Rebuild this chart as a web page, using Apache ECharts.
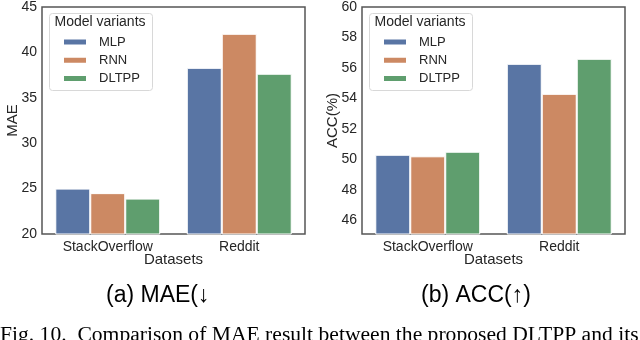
<!DOCTYPE html>
<html>
<head>
<meta charset="utf-8">
<script src="https://cdn.jsdelivr.net/npm/echarts@6/dist/echarts.min.js"></script>
<style>
  html, body { margin: 0; padding: 0; background: #fff; }
  #chart { width: 640px; height: 340px; }
</style>
</head>
<body>
<div id="chart"></div>
<script>
// data
const datasets = ['StackOverflow', 'Reddit']
const variants = ['MLP', 'RNN', 'DLTPP']
const maeMLP = [25.0, 38.3]
const maeRNN = [24.5, 42.05]
const maeDLTPP = [23.9, 37.65]
const accMLP = [50.3, 56.27]
const accRNN = [50.2, 54.3]
const accDLTPP = [50.5, 56.6]
const accTicks = [46, 48, 50, 52, 54, 56, 58, 60]

const colors = ['#5975a4', '#cc8963', '#5f9e6e']
const font = 'Liberation Sans, Arial, sans-serif'
const textColor = '#262626'

const chart = echarts.init(document.getElementById('chart'), null, { renderer: 'canvas' })

function xAxisFor(idx) {
  return {
    type: 'category',
    gridIndex: idx,
    data: datasets,
    name: 'Datasets',
    nameLocation: 'middle',
    nameGap: 18,
    nameMoveOverlap: false,
    nameTextStyle: { fontFamily: font, fontSize: 15, color: textColor },
    axisLine: { show: false },
    axisTick: { show: false },
    axisLabel: { fontFamily: font, fontSize: 14, color: textColor, margin: 6 },
    splitLine: { show: false }
  }
}

function barSeries(name, data, idx, color) {
  return {
    name: name,
    type: 'bar',
    xAxisIndex: idx,
    yAxisIndex: idx,
    data: data,
    barWidth: '26.6%',
    barGap: '0%',
    itemStyle: { color: color, borderColor: '#fff', borderWidth: 1 },
    animation: false
  }
}

function legendBox(x, y) {
  return {
    type: 'group',
    left: x,
    top: y,
    children: [
      {
        type: 'rect',
        shape: { x: 0, y: 0, width: 103, height: 77, r: 3 },
        style: { fill: '#fff', stroke: '#d8d8d8', lineWidth: 1 }
      },
      {
        type: 'text',
        left: 5,
        top: 2,
        style: { text: 'Model variants', font: '14px ' + font, fill: textColor }
      }
    ]
  }
}

function legendFor(x, y) {
  return {
    data: variants,
    orient: 'vertical',
    left: x,
    top: y,
    padding: 0,
    itemWidth: 24,
    itemHeight: 7,
    itemGap: 4.3,
    icon: 'rect',
    textStyle: { fontFamily: font, fontSize: 13, lineHeight: 14, color: textColor, padding: [0, 0, 0, 7] },
    selectedMode: false
  }
}

function yAxisCommon(name) {
  return {
    type: 'value',
    name: name,
    nameLocation: 'middle',
    nameGap: 22,
    nameMoveOverlap: false,
    nameTextStyle: { fontFamily: font, fontSize: 15, color: textColor },
    axisLine: { show: false },
    axisTick: { show: false },
    splitLine: { show: false }
  }
}

chart.setOption({
  backgroundColor: '#fff',
  color: colors,
  grid: [
    { left: 42, top: 5, width: 263, height: 229, show: true, borderColor: '#555', borderWidth: 1.5, backgroundColor: 'transparent' },
    { left: 362, top: 5, width: 263, height: 229, show: true, borderColor: '#555', borderWidth: 1.5, backgroundColor: 'transparent' }
  ],
  xAxis: [xAxisFor(0), xAxisFor(1)],
  yAxis: [
    Object.assign(yAxisCommon('MAE'), {
      gridIndex: 0,
      min: 20,
      max: 45,
      interval: 5,
      axisLabel: { fontFamily: font, fontSize: 14, color: textColor, margin: 5 }
    }),
    Object.assign(yAxisCommon('ACC(%)'), {
      gridIndex: 1,
      min: 45.1,
      max: 60,
      axisLabel: { fontFamily: font, fontSize: 14, color: textColor, margin: 5, customValues: accTicks }
    })
  ],
  legend: [legendFor(62, 35), legendFor(382, 35)],
  graphic: [
    legendBox(49, 13),
    legendBox(369, 13),
    {
      type: 'text',
      left: 106,
      top: 284,
      style: { text: '(a) MAE(\u2193', font: '23px ' + font, fill: '#000' }
    },
    {
      type: 'text',
      left: 421,
      top: 284,
      style: { text: '(b) ACC(\u2191)', font: '23px ' + font, fill: '#000' }
    },
    {
      type: 'text',
      left: 0,
      top: 324,
      style: { text: 'Fig. 10.  Comparison of MAE result between the proposed DLTPP and its', font: '21.6px Liberation Serif, Times New Roman, serif', fill: '#000' }
    }
  ],
  series: [
    barSeries('MLP', maeMLP, 0, colors[0]),
    barSeries('RNN', maeRNN, 0, colors[1]),
    barSeries('DLTPP', maeDLTPP, 0, colors[2]),
    barSeries('MLP', accMLP, 1, colors[0]),
    barSeries('RNN', accRNN, 1, colors[1]),
    barSeries('DLTPP', accDLTPP, 1, colors[2])
  ]
})
</script>
</body>
</html>
